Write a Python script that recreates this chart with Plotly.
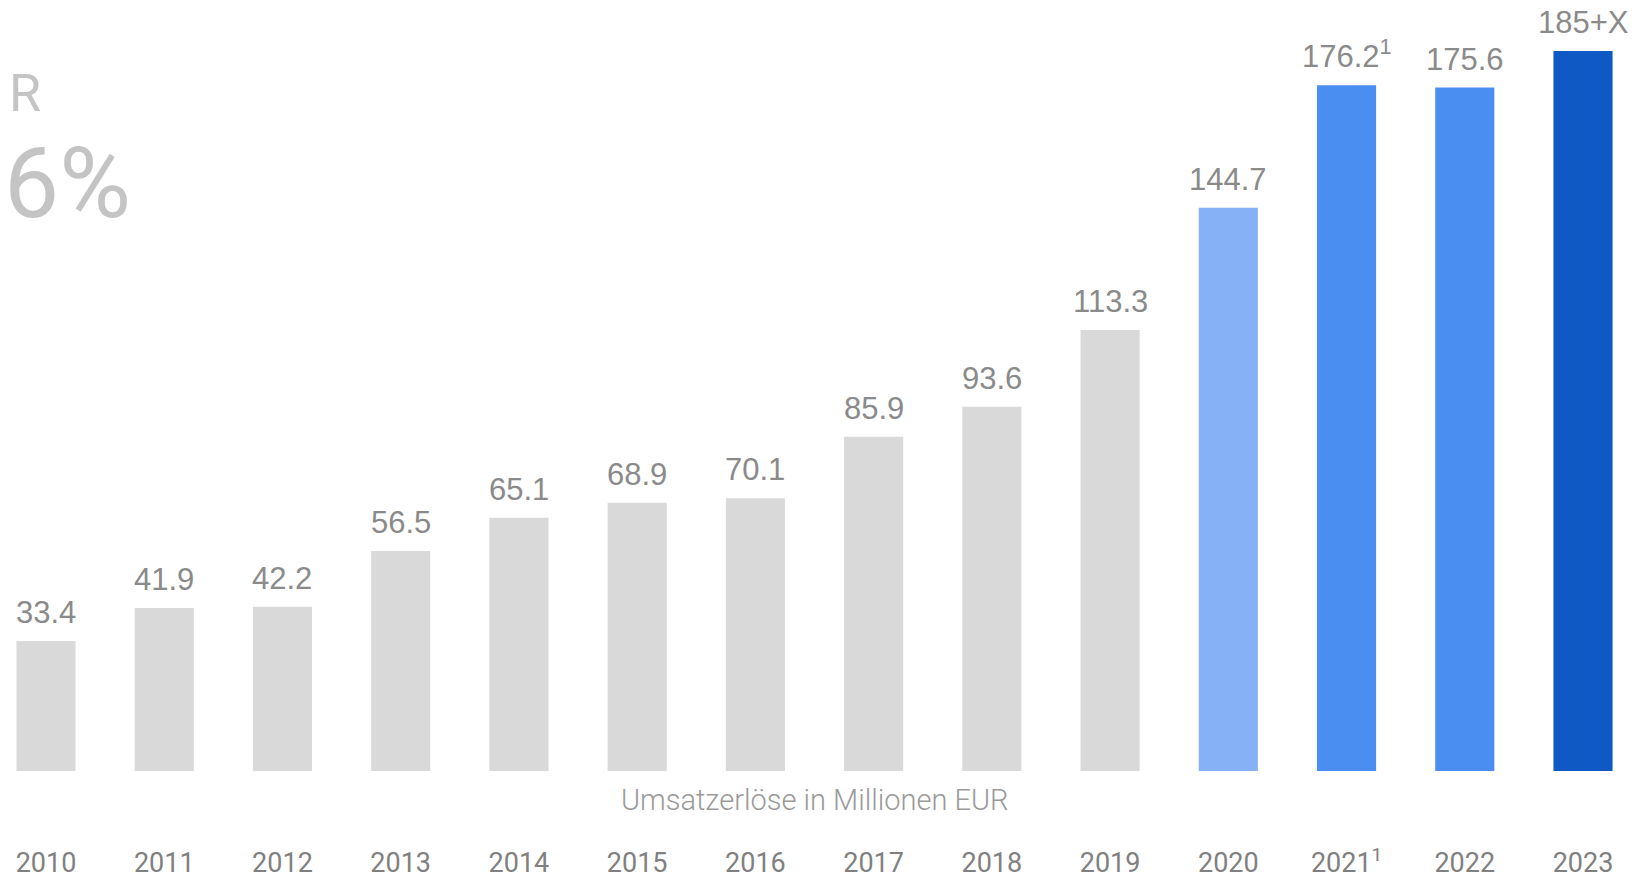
import plotly.graph_objects as go

# Umsatzerlöse 2010-2023
years = ["2010", "2011", "2012", "2013", "2014", "2015", "2016",
         "2017", "2018", "2019", "2020", "2021<sup>1</sup>", "2022", "2023"]
revenue = [33.4, 41.9, 42.2, 56.5, 65.1, 68.9, 70.1, 85.9, 93.6, 113.3,
           144.7, 176.2, 175.6, 185.0]
labels = ["33.4", "41.9", "42.2", "56.5", "65.1", "68.9", "70.1", "85.9",
          "93.6", "113.3", "144.7", "176.2<sup>1</sup>", "175.6", "185+X"]

grey = "#d9d9d9"
bar_colors = [grey] * 10 + ["#86b1f6", "#4a8ef1", "#4a8ef1", "#0f59c4"]

x_pos = list(range(len(years)))

# page body has an 8px margin, so the figure is a bit smaller than the window
W, H = 1632, 871
plot_h = 763  # baseline of the bars in figure pixels

fig = go.Figure()

fig.add_trace(go.Bar(
    x=x_pos,
    y=revenue,
    width=0.5,
    marker=dict(color=bar_colors, line=dict(width=0)),
    hoverinfo="skip",
    showlegend=False,
))

# value labels above the bars
for xi, val, lab in zip(x_pos, revenue, labels):
    fig.add_annotation(
        x=xi, y=val, xref="x", yref="y",
        text=lab, showarrow=False,
        yanchor="bottom", yshift=9,
        font=dict(family="Liberation Sans, Arial", size=31, color="#8a8a8a"),
    )

# axis caption between bars and years
fig.add_annotation(
    x=6.5, y=0, xref="x", yref="paper",
    text="Umsatzerlöse in Millionen EUR", showarrow=False,
    yanchor="top", yshift=-10,
    font=dict(family="Roboto", size=29, color="#9a9a9a", weight=300),
)

# CAGR headline, partly cut off at the left edge
fig.add_annotation(
    x=34.5 / W, y=(plot_h - 85.5) / plot_h, xref="paper", yref="paper",
    showarrow=False, text="CAGR", xanchor="right", yanchor="middle",
    font=dict(family="Roboto", size=52, color="#c4c4c4"),
)
fig.add_annotation(
    x=125 / W, y=(plot_h - 176) / plot_h, xref="paper", yref="paper",
    showarrow=False, text="16%", xanchor="right", yanchor="middle",
    font=dict(family="Roboto", size=98, color="#c4c4c4"),
)

fig.update_layout(
    width=W, height=H,
    margin=dict(l=0, r=0, t=0, b=H - plot_h, pad=0),
    plot_bgcolor="white",
    paper_bgcolor="white",
    xaxis=dict(
        range=[-0.3214, 13.482],
        tickmode="array",
        tickvals=x_pos,
        ticktext=years,
        showgrid=False, zeroline=False, showline=False,
        ticks="", ticklabelstandoff=73,
        automargin=False,
        tickfont=dict(family="Roboto", size=27, color="#808080"),
        fixedrange=True,
    ),
    yaxis=dict(
        range=[0, 196.04],
        visible=False,
        automargin=False,
        fixedrange=True,
    ),
)

fig.write_html("out.html")
